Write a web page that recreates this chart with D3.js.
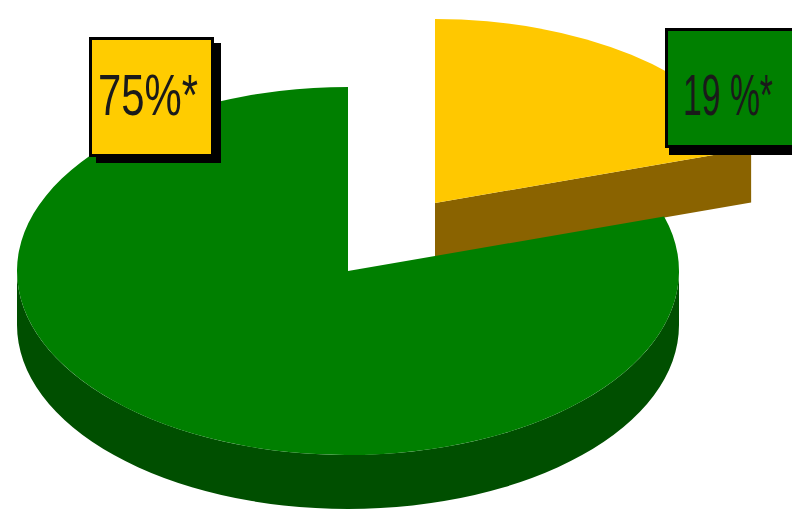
<!DOCTYPE html>
<html>
<head>
<meta charset="utf-8">
<script src="https://cdn.jsdelivr.net/npm/d3@7"></script>
<style>
  body { margin: 0; background: #fff; }
  svg { display: block; }
</style>
</head>
<body>
<div id="chart-area"></div>
<script>
// slices, clockwise from 12 o'clock
var shares = [19, 75];
var labels = ["19 %*", "75%*"];
var sliceColors = ["#ffc800", "#007f00"];
var sideColors = ["#8a6300", "#004f00"];
var boxColors = ["#008000", "#ffcc00"];
var exploded = [true, false];

var width = 792, height = 515;
var cx = 348, cy = 271, rx = 331, ry = 184, depth = 54;
var k = ry / rx;
var explode = {x: 87, y: -68};

// label boxes (layout only)
var boxes = [
    {x: 665, y: 28, w: 132, h: 120, sx: 4, sy: 7, tx: 683, ty: 115, tl: 90},
    {x: 89, y: 37, w: 125, h: 120, sx: 7, sy: 6, tx: 98, ty: 115, tl: 100}
];

var svg = d3.select("#chart-area")
    .append("svg")
    .attr("width", width)
    .attr("height", height);

var pie = d3.pie().sort(null).value((d) => d);
var arcs = pie(shares);
var arc = d3.arc().innerRadius(0).outerRadius(rx);
var h = depth / k;

function pt(a, r, dy) {
    var t = a - Math.PI / 2;
    return [r * Math.cos(t), r * Math.sin(t) + (dy || 0)];
}

// outer wall, front half only
function sideWall(a0, a1) {
    var s = Math.max(a0, Math.PI / 2), e = Math.min(a1, 3 * Math.PI / 2);
    if (e <= s) return null;
    var p = d3.path();
    var p0 = pt(s, rx), p1 = pt(e, rx, h);
    p.moveTo(p0[0], p0[1]);
    p.arc(0, 0, rx, s - Math.PI / 2, e - Math.PI / 2);
    p.lineTo(p1[0], p1[1]);
    p.arc(0, h, rx, e - Math.PI / 2, s - Math.PI / 2, true);
    p.closePath();
    return p.toString();
}

// radial cut face at the end angle of a slice
function cutFace(a) {
    var p = d3.path();
    var q = pt(a, rx);
    p.moveTo(0, 0);
    p.lineTo(q[0], q[1]);
    p.lineTo(q[0], q[1] + h);
    p.lineTo(0, h);
    p.closePath();
    return p.toString();
}

// exploded slices first (they sit behind)
var order = [0, 1].sort((a, b) => (exploded[b] ? 1 : 0) - (exploded[a] ? 1 : 0));

order.forEach((i) => {
    var d = arcs[i];
    var ox = exploded[i] ? explode.x : 0;
    var oy = exploded[i] ? explode.y : 0;
    var g = svg.append("g")
        .attr("transform", "translate(" + (cx + ox) + "," + (cy + oy) + ") scale(1," + k + ")");

    var wall = sideWall(d.startAngle, d.endAngle);
    if (wall) {
        g.append("path").attr("d", wall).attr("fill", sideColors[i]);
    }
    if (d.endAngle < Math.PI) {
        g.append("path").attr("d", cutFace(d.endAngle)).attr("fill", sideColors[i]);
    }
    g.append("path")
        .attr("d", arc(d))
        .attr("fill", sliceColors[i]);
});

// labels
labels.forEach((txt, i) => {
    var b = boxes[i];
    svg.append("rect")
        .attr("x", b.x + b.sx).attr("y", b.y + b.sy)
        .attr("width", b.w).attr("height", b.h)
        .attr("fill", "#000");
    svg.append("rect")
        .attr("x", b.x + 1.5).attr("y", b.y + 1.5)
        .attr("width", b.w - 3).attr("height", b.h - 3)
        .attr("fill", boxColors[i])
        .attr("stroke", "#000")
        .attr("stroke-width", 3);
    var t = svg.append("text")
        .attr("x", 0).attr("y", 0)
        .attr("font-family", "'Liberation Sans Narrow', 'Arial Narrow', 'Liberation Sans', sans-serif")
        .attr("font-size", "58px")
        .style("fill", "#1a1a1a")
        .text(txt);
    var len = t.node().getComputedTextLength();
    t.attr("transform", "translate(" + b.tx + "," + b.ty + ") scale(" + (b.tl / len) + ",1)");
});
</script>
</body>
</html>
